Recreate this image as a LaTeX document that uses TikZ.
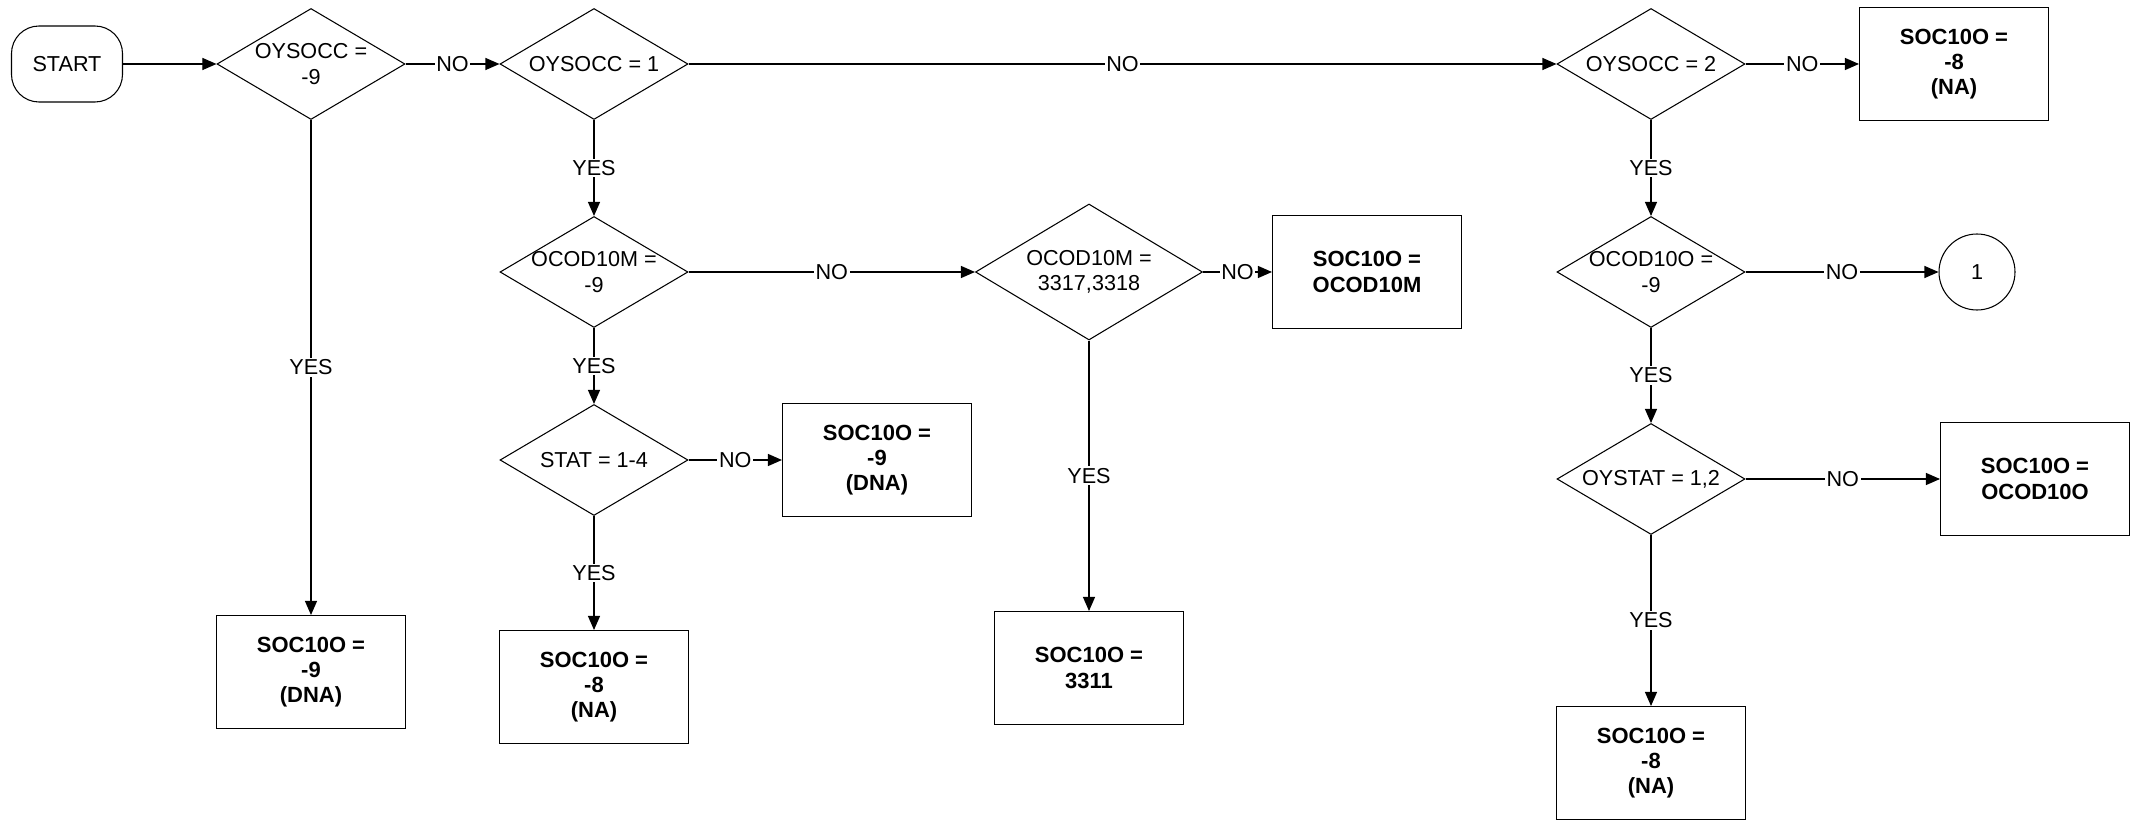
\documentclass[tikz,border=0pt]{standalone}
\usepackage{fontspec}
\setmainfont{Liberation Sans}
\usetikzlibrary{arrows.meta, shapes.geometric, positioning}

\begin{document}
\begin{tikzpicture}[
    font=\fontsize{12.3}{14.3}\selectfont,
    line width=0.6pt,
    decision/.style={diamond, draw, align=center, inner sep=-4pt, aspect=1.69, minimum width=3.76cm, minimum height=2.22cm},
    result/.style={rectangle, draw, align=center, font=\fontsize{12.5}{14.3}\selectfont\bfseries, minimum width=3.78cm, minimum height=2.26cm},
    terminal/.style={rectangle, rounded corners=0.55cm, draw, minimum width=2.22cm, minimum height=1.52cm},
    connector/.style={circle, draw, minimum size=1.52cm},
    flow/.style={-{Triangle[length=0.28cm, width=0.24cm]}},
    lbl/.style={fill=white, inner sep=1pt}
]
    \useasboundingbox (0,0) rectangle (42.62,-16.4);

    % Start node
    \node[terminal] (start) at (1.34,-1.28) {START};

    % First row of decisions
    \node[decision] (d1) at (6.22,-1.28) {OYSOCC =\\-9};
    \node[decision] (d2) at (11.88,-1.28) {OYSOCC = 1};
    \node[decision] (d3) at (33.02,-1.28) {OYSOCC = 2};
    \node[result] (na1) at (39.08,-1.28) {SOC10O =\\-8\\(NA)};

    % OYSOCC = -9 -> DNA
    \node[result] (dna1) at (6.22,-13.44) {SOC10O =\\-9\\(DNA)};

    % OYSOCC = 1 branch
    \node[decision] (d4) at (11.88,-5.44) {OCOD10M =\\-9};
    \node[decision, aspect=1.67, minimum width=4.54cm, minimum height=2.72cm] (d5) at (21.78,-5.44) {OCOD10M =\\3317,3318};
    \node[result] (ocod10m) at (27.34,-5.44) {SOC10O =\\OCOD10M};
    \node[result] (b3311) at (21.78,-13.36) {SOC10O =\\3311};
    \node[decision] (d6) at (11.88,-9.2) {STAT = 1-4};
    \node[result] (dna2) at (17.54,-9.2) {SOC10O =\\-9\\(DNA)};
    \node[result] (na2) at (11.88,-13.74) {SOC10O =\\-8\\(NA)};

    % OYSOCC = 2 branch
    \node[decision] (d7) at (33.02,-5.44) {OCOD10O =\\-9};
    \node[connector] (c1) at (39.54,-5.44) {1};
    \node[decision] (d8) at (33.02,-9.58) {OYSTAT = 1,2};
    \node[result] (ocod10o) at (40.7,-9.58) {SOC10O =\\OCOD10O};
    \node[result] (na3) at (33.02,-15.26) {SOC10O =\\-8\\(NA)};

    % Connectors
    \draw[flow] (start) -- (d1);
    \draw[flow] (d1) -- node[lbl] {NO} (d2);
    \draw[flow] (d2) -- node[lbl] {NO} (d3);
    \draw[flow] (d3) -- node[lbl] {NO} (na1);
    \draw[flow] (d1) -- node[lbl] {YES} (dna1);
    \draw[flow] (d2) -- node[lbl] {YES} (d4);
    \draw[flow] (d4) -- node[lbl] {NO} (d5);
    \draw[flow] (d5) -- node[lbl] {NO} (ocod10m);
    \draw[flow] (d5) -- node[lbl] {YES} (b3311);
    \draw[flow] (d4) -- node[lbl] {YES} (d6);
    \draw[flow] (d6) -- node[lbl] {NO} (dna2);
    \draw[flow] (d6) -- node[lbl] {YES} (na2);
    \draw[flow] (d3) -- node[lbl] {YES} (d7);
    \draw[flow] (d7) -- node[lbl] {NO} (c1);
    \draw[flow] (d7) -- node[lbl] {YES} (d8);
    \draw[flow] (d8) -- node[lbl] {NO} (ocod10o);
    \draw[flow] (d8) -- node[lbl] {YES} (na3);
\end{tikzpicture}
\end{document}
